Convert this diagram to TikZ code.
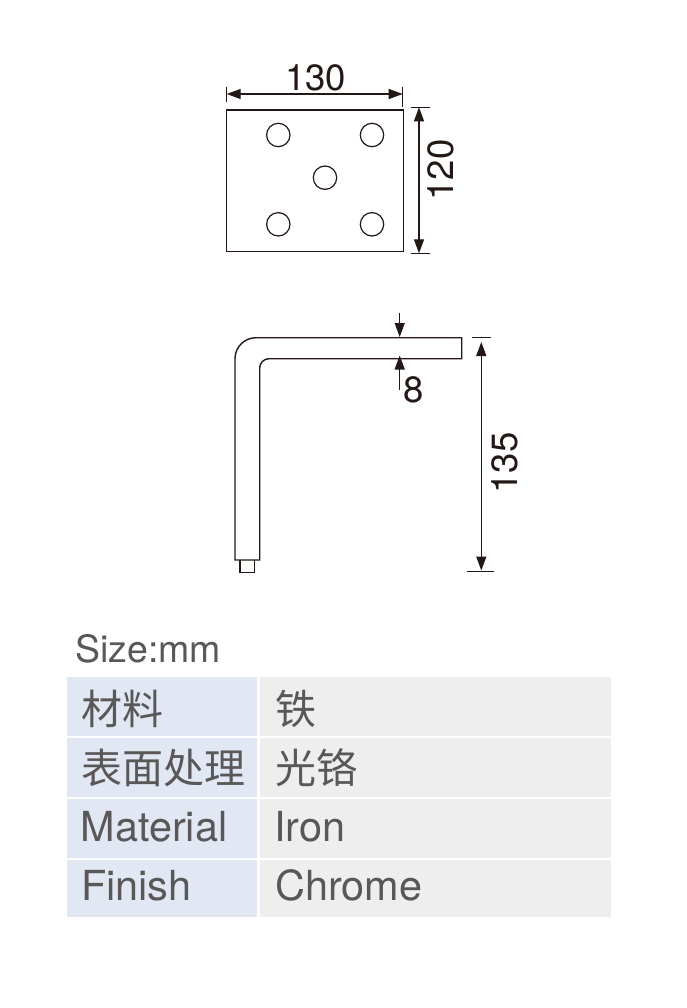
\documentclass[tikz,border=0pt]{standalone}
\usepackage{fontspec}
\setmainfont{TeX Gyre Heros}
\newfontfamily\cjkfont{Noto Sans CJK SC}
\usetikzlibrary{arrows.meta}
\definecolor{ink}{HTML}{231815}
\definecolor{txt}{HTML}{595757}
\definecolor{headbg}{HTML}{E1E8F3}
\definecolor{cellbg}{HTML}{EEEEEE}
\tikzset{
  part/.style={draw=ink,line width=1.4pt},
  tick/.style={draw=ink,line width=1.2pt},
  dimline/.style={draw=ink,line width=1.3pt,{Triangle[length=14pt,width=10pt]}-{Triangle[length=14pt,width=10pt]}},
  dimone/.style={draw=ink,line width=1.3pt,-{Triangle[length=14pt,width=10pt]}},
  dimtext/.style={text=ink,inner sep=0pt,font=\fontsize{36.5}{37}\selectfont},
  headcell/.style={fill=headbg,draw=none},
  bodycell/.style={fill=cellbg,draw=none},
  celltext/.style={text=txt,inner sep=0pt,anchor=base west,font=\fontsize{41.4}{42}\selectfont},
  cjktext/.style={text=txt,inner sep=0pt,anchor=base west,font=\cjkfont\fontsize{41}{42}\selectfont},
  hole/.style={draw=ink,line width=1.2pt}
}
\begin{document}
\begin{tikzpicture}[x=1pt,y=-1pt]
\useasboundingbox (0,0) rectangle (687,1008);
\fill[white] (0,0) rectangle (687,1008);

% top view
\draw[part] (226.7,110) rectangle (403.7,251.7);
\foreach \cx/\cy in {278.3/135,372/135,325/177.7,278.3/224.3,372/224.3}
  \draw[hole] (\cx,\cy) circle (11.7);

% 130
\coordinate (wl) at (226.7,94);
\coordinate (wr) at (402.7,94);
\draw[tick] (226.7,87) -- (226.7,101.7);
\draw[tick] (402.7,87) -- (402.7,107);
\draw[dimline] (wl) -- (wr);
\node[dimtext] (w) at (315.5,78) {130};

% 120
\coordinate (ht) at (419,107.3);
\coordinate (hb) at (419,253.3);
\draw[tick] (411,107.3) -- (429.5,107.3);
\draw[tick] (411,253.3) -- (430,253.3);
\draw[dimline] (ht) -- (hb);
\node[dimtext,rotate=90] (h) at (441,170) {120};

% bracket side view
\draw[part,line join=miter]
  (461.7,337.7) -- (256,337.7) .. controls (244.4,337.7) and (235,347.1) .. (235,358.7)
  -- (235,560) -- (259.7,560) -- (259.7,368) .. controls (259.7,362.9) and (263.9,358.7) .. (269,358.7)
  -- (461.7,358.7) -- cycle;
\draw[part,line width=1.3pt] (240,560) -- (240,572.3) -- (254.7,572.3) -- (254.7,560);

% 8
\coordinate (ta) at (399.7,312.7);
\coordinate (tb) at (399.7,337);
\coordinate (ba) at (399.7,390);
\coordinate (bb) at (399.7,355.5);
\draw[dimone] (ta) -- (tb);
\draw[dimone] (ba) -- (bb);
\node[dimtext] (t) at (414,389.5) {8};

% 135
\coordinate (lt) at (481.3,342);
\coordinate (lb) at (481.3,570.5);
\draw[tick] (471.7,337.7) -- (491,337.7);
\draw[tick] (467,571.7) -- (494,571.7);
\draw[dimline] (lt) -- (lb);
\node[dimtext,rotate=90] (l) at (504.5,463) {135};

% size
\node[text=txt,inner sep=0pt,anchor=base west,font=\fontsize{37.5}{38}\selectfont] (size) at (75,662.5) {Size:mm};

% table
\fill[headcell] (66.7,676.7) rectangle (257,736);
\fill[headcell] (66.7,738) rectangle (257,797);
\fill[headcell] (66.7,799) rectangle (257,858);
\fill[headcell] (66.7,860) rectangle (257,917);
\fill[bodycell] (260,676.7) rectangle (611,736);
\fill[bodycell] (260,738) rectangle (611,797);
\fill[bodycell] (260,799) rectangle (611,858);
\fill[bodycell] (260,860) rectangle (611,917);

\node[cjktext] (a1) at (81,724) {材料};
\node[cjktext] (a2) at (81,783) {表面处理};
\node[celltext] (a3) at (80.5,841) {Material};
\node[celltext] (a4) at (81,900) {Finish};
\node[cjktext] (b1) at (275,724) {铁};
\node[cjktext] (b2) at (275,783) {光铬};
\node[celltext] (b3) at (274,841) {Iron};
\node[celltext] (b4) at (275,900) {Chrome};
\end{tikzpicture}
\end{document}
